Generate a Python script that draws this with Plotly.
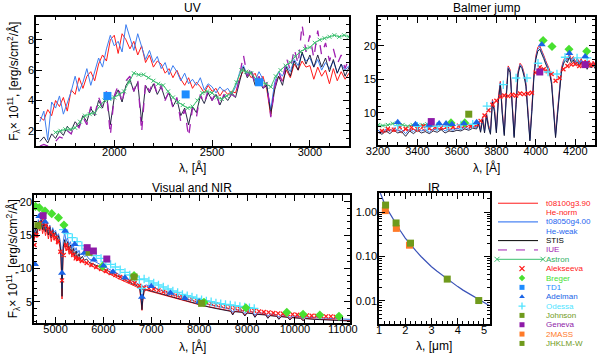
import plotly.graph_objects as go

# colours
RED = "#ff1a1a"
BLUE = "#3d7ef0"
BLACK = "#101030"
PURPLE = "#a020b0"
ASTRON = "#3cc070"
LIME = "#48e030"
TD1C = "#1e8cff"
ADEL = "#1a64e6"
CYAN = "#50e4ff"
OLIVE = "#6f9a1c"
GENEVA = "#8e1aa8"
ORANGE = "#ff7a28"

# ---------------- UV panel ----------------
uv_wave = list(range(1620, 3201, 20))
uv_red = [2.9, 2.7, 3.4, 3.0, 4.0, 3.6, 4.2, 3.3, 4.7, 4.4,
          5.5, 4.8, 5.6, 5.9, 5.3, 6.4, 7.0, 6.6, 8.0, 8.3,
          7.1, 8.4, 8.0, 7.4, 7.9, 7.0, 7.6, 6.5, 7.0, 6.2,
          6.6, 6.4, 5.8, 6.1, 5.5, 6.0, 5.4, 5.0, 5.5, 4.8,
          5.2, 4.9, 4.5, 5.0, 4.6, 4.8, 4.3, 4.7, 4.4, 4.6,
          4.5, 5.4, 6.0, 5.9, 5.5, 5.8, 5.1, 5.6, 4.7, 3.0,
          5.0, 5.6, 5.3, 6.0, 5.5, 6.4, 6.0, 6.6, 6.2, 6.3,
          5.4, 6.2, 5.6, 6.0, 5.1, 6.1, 5.3, 5.9, 5.4, 5.8]
uv_blue = [2.6, 3.3, 1.4, 3.9, 3.5, 4.3, 3.1, 3.8, 4.6, 5.6,
           4.6, 5.2, 6.1, 5.0, 5.9, 6.8, 6.2, 7.4, 8.3, 7.6,
           7.9, 7.2, 9.0, 8.1, 7.3, 8.4, 7.6, 6.7, 7.3, 6.5,
           6.9, 6.1, 6.5, 5.7, 6.3, 5.9, 5.3, 5.8, 5.1, 5.4,
           5.0, 5.5, 4.7, 5.1, 4.9, 4.5, 4.9, 4.6, 4.8, 4.4,
           4.9, 5.8, 6.3, 5.7, 5.9, 5.3, 5.9, 5.4, 4.9, 3.4,
           5.2, 5.9, 5.6, 6.3, 5.9, 6.7, 6.3, 7.1, 6.6, 6.8,
           6.2, 6.7, 6.0, 6.5, 6.1, 6.6, 5.8, 6.4, 6.0, 6.3]
uv_stis = [1.3, 1.6, 1.2, 1.8, 1.5, 2.0, 1.7, 2.3, 2.0, 2.6,
           2.3, 3.0, 2.6, 3.5, 3.0, 4.0, 3.5, 4.4, 2.4, 4.2,
           4.7, 3.9, 5.0, 5.4, 4.6, 5.2, 2.6, 5.0, 4.5, 5.1,
           4.4, 4.9, 4.1, 4.5, 3.6, 4.1, 3.0, 3.5, 2.4, 3.6,
           3.2, 4.3, 3.8, 4.5, 4.0, 4.4, 3.7, 4.3, 4.0, 4.4,
           4.2, 5.3, 6.2, 5.5, 5.9, 5.0, 5.4, 4.8, 5.0, 3.1,
           4.7, 5.6, 5.0, 6.2, 5.6, 6.6, 6.0, 7.2, 6.4, 7.0,
           6.2, 7.0, 6.2, 6.8, 5.9, 6.7, 5.8, 6.4, 5.6, 6.2]
uv_iue = [1.0, 1.1, 1.0, 1.2, 1.3, 1.6, 1.5, 2.0, 1.8, 2.5,
          2.2, 2.9, 2.4, 3.6, 3.0, 4.2, 3.6, 4.6, 1.7, 4.3,
          5.0, 3.8, 5.3, 5.6, 4.6, 5.4, 1.9, 5.2, 4.6, 5.3,
          4.4, 5.0, 4.0, 4.6, 3.5, 4.2, 2.6, 3.4, 1.6, 3.5,
          2.9, 4.4, 3.8, 4.7, 4.0, 4.6, 3.6, 4.4, 4.0, 4.5,
          4.2, 5.5, 7.0, 5.6, 6.2, 5.0, 5.6, 4.8, 5.2, 2.9,
          4.8, 5.9, 5.2, 6.8, 6.0, 7.4, 6.4, 9.0, 7.2, 8.3,
          6.8, 8.6, 7.0, 7.8, 6.6, 7.4, 6.4, 7.0, 6.1, 6.8]

astron_wave = list(range(1700, 3500, 25))
astron_flux = [1.9, 2.0, 2.1, 2.1, 2.2, 2.6, 3.0, 3.1, 3.2, 3.6,
               4.0, 4.1, 4.2, 4.4, 4.6, 5.2, 5.8, 5.7, 5.7, 5.5,
               5.3, 5.1, 5.0, 4.6, 4.2, 3.9, 3.7, 3.5, 3.6, 4.0,
               4.5, 4.6, 4.5, 4.2, 4.1, 4.3, 4.5, 5.2, 6.0, 5.9,
               5.8, 5.4, 5.2, 5.1, 4.9, 5.6, 6.0, 6.3, 6.5, 6.9,
               7.2, 7.4, 7.5, 7.8, 8.0, 8.1, 8.2, 8.3, 8.2, 8.3,
               8.2, 8.1, 8.2, 8.4, 8.4, 8.2, 8.0, 8.2, 8.1, 8.2, 8.3, 8.2]

td1_wave = [1965, 2365, 2740]
td1_flux = [4.3, 4.4, 5.2]

# ---------------- Balmer jump panel ----------------
bal_wave = list(range(3200, 3700, 20)) + list(range(3700, 4310, 10))
bal_blue = [7.4, 7.0, 7.6, 7.2, 7.8, 7.3, 7.5, 6.9, 7.6, 7.2, 7.7, 7.3, 7.5,
            7.1, 7.6, 7.4, 7.8, 7.3, 7.6, 7.4, 7.7, 7.5, 7.9, 7.6, 8.0,
            7.8, 8.6, 7.3, 9.2, 7.2, 9.8, 8.0, 7.0, 11.8, 10.5,
            7.2, 12.0, 14.5, 10.0, 6.8, 12.5, 16.8, 16.2, 11.0, 6.5,
            11.5, 16.0, 17.2, 16.8, 15.8, 14.2, 10.0, 6.0, 10.5, 15.5,
            18.2, 19.5, 19.8, 19.2, 18.4, 17.6, 17.0, 16.2, 14.5, 11.0,
            6.5, 10.0, 14.0, 16.5, 17.6, 18.2, 17.8, 18.6, 17.8, 18.2,
            17.4, 18.0, 17.3, 17.9, 17.1, 17.7, 16.8, 17.6, 17.0, 17.5, 16.9]
bal_stis = [7.1, 6.8, 7.3, 6.9, 7.4, 7.0, 7.2, 6.5, 7.3, 6.9, 7.4, 7.0, 7.2,
            6.9, 7.3, 7.1, 7.5, 7.0, 7.3, 7.2, 7.4, 7.3, 7.6, 7.4, 7.7,
            7.6, 8.3, 7.1, 9.0, 7.0, 9.6, 7.8, 6.8, 11.6, 10.2,
            7.0, 11.7, 14.3, 9.8, 6.6, 12.2, 16.6, 16.0, 10.8, 6.3,
            11.2, 15.8, 17.0, 16.6, 15.5, 13.9, 9.7, 5.8, 10.2, 15.2,
            18.0, 19.2, 19.5, 18.9, 18.1, 17.3, 16.7, 15.9, 14.2, 10.7,
            6.3, 9.7, 13.7, 16.2, 17.3, 17.9, 17.5, 18.3, 17.5, 17.9,
            17.1, 17.7, 17.0, 17.6, 16.8, 17.4, 16.5, 17.3, 16.7, 17.2, 16.6]
bal_red = [7.0, 7.4, 7.1, 7.6, 7.2, 7.5, 7.0, 7.7, 7.3, 7.6, 7.2, 7.7, 7.3,
           7.6, 7.4, 7.8, 7.5, 7.7, 7.4, 7.8, 7.6, 7.9, 7.7, 8.1, 7.8,
           8.0, 8.7, 7.5, 9.4, 7.4, 10.0, 8.2, 7.3, 12.0, 10.8,
           7.5, 12.3, 14.7, 10.3, 7.1, 12.8, 17.0, 16.4, 11.3, 6.8,
           11.8, 16.2, 17.4, 17.0, 16.0, 14.4, 10.3, 6.3, 10.8, 15.8,
           18.5, 19.8, 20.0, 19.4, 18.6, 17.8, 17.2, 16.4, 14.7, 11.2,
           6.8, 10.3, 14.2, 16.7, 17.8, 18.4, 18.0, 18.8, 18.0, 18.4,
           17.6, 18.2, 17.5, 18.1, 17.3, 17.9, 17.0, 17.8, 17.2, 17.7, 17.1]

alek_bal_wave = [3220, 3250, 3280, 3310, 3340, 3370, 3400, 3430, 3460, 3490,
                 3520, 3550, 3580, 3610, 3640, 3670, 3700, 3720, 3740, 3760,
                 3780, 3800, 3820, 3840, 3860, 3880, 3900, 3920, 3940, 3960,
                 3980, 4000, 4020, 4040, 4060, 4080, 4100, 4120, 4140, 4160,
                 4180, 4200, 4220, 4240, 4260, 4280, 4300]
alek_bal_flux = [7.3, 7.6, 7.5, 7.9, 7.6, 7.8, 7.6, 8.0, 7.7, 7.9,
                 7.8, 8.0, 7.9, 8.1, 8.2, 8.0, 8.3, 8.8, 9.6, 10.4,
                 11.2, 11.8, 12.4, 12.6, 12.5, 12.7, 12.6, 12.9, 12.8, 12.9,
                 13.0, 16.0, 16.8, 16.5, 16.2, 15.8, 14.8, 15.2, 16.5, 17.0,
                 17.2, 17.3, 17.0, 17.2, 17.4, 17.1, 17.3]

ode_bal_wave = [3300, 3400, 3450, 3500, 3550, 3620, 3680, 3752, 3835, 3900,
                3955, 4011, 4062, 4107, 4148, 4209, 4260]
ode_bal_flux = [8.1, 8.0, 7.9, 8.0, 8.0, 8.2, 8.3, 11.0, 14.2, 15.2,
                15.2, 17.4, 16.1, 15.8, 18.3, 18.2, 18.2]

adel_bal_wave = [3300, 3390, 3460, 3510, 3545, 3575, 3636, 3700, 4030, 4170, 4250]
adel_bal_flux = [8.6, 8.3, 8.2, 8.4, 8.4, 8.3, 8.4, 8.6, 20.2, 18.9, 18.4]

breger_bal_wave = [3570, 3640, 4037, 4082, 4168, 4258]
breger_bal_flux = [8.5, 8.5, 20.8, 19.9, 19.5, 19.2]

geneva_bal_wave = [3470, 4020, 4250]
geneva_bal_flux = [8.7, 16.1, 17.2]

johnson_bal_wave = [3660]
johnson_bal_flux = [9.8]

# ---------------- Visual and NIR panel ----------------
vis_wave = [4550, 4580, 4610, 4640, 4670, 4700, 4730, 4760, 4790, 4820,
            4850, 4880, 4910, 4940, 4970, 5000, 5030, 5060, 5090, 5110,
            5125, 5135, 5145, 5160, 5190, 5220, 5250, 5280, 5310, 5340,
            5370, 5400, 5430, 5460, 5490, 5520, 5560, 5600, 5650, 5700,
            5800, 5900, 6000, 6100, 6200, 6300, 6400, 6500, 6600, 6700,
            6760, 6790, 6805, 6820, 6850, 6900, 7000, 7200, 7400, 7600,
            7800, 8000, 8200, 8400, 8600, 8660, 8700, 8740, 8900, 8955,
            9000, 9120, 9165, 9210, 9390, 9435, 9480, 9620, 9665, 9710,
            9850, 9895, 9940, 10120, 10170, 10220, 10400, 10600, 10800, 11000,
            11150]
vis_stis = [14.5, 16.0, 15.2, 17.0, 16.2, 17.2, 15.8, 16.8, 15.5, 16.5,
            15.0, 16.2, 14.6, 15.8, 14.8, 15.4, 14.2, 14.9, 13.8, 12.5,
            9.5, 5.8, 9.5, 13.2, 14.3, 13.2, 14.0, 12.8, 13.5, 12.3,
            13.0, 11.9, 12.6, 11.6, 12.2, 11.4, 11.8, 11.2, 11.4, 10.9,
            10.6, 10.3, 10.0, 9.6, 9.2, 8.8, 8.4, 8.0, 7.7, 7.4,
            7.0, 5.2, 3.8, 5.2, 6.8, 6.8, 6.6, 6.2, 5.8, 5.3,
            4.9, 4.5, 4.2, 3.9, 3.65, 3.55, 3.0, 3.5, 3.4, 2.85,
            3.3, 3.2, 2.65, 3.1, 3.0, 2.5, 2.9, 2.8, 2.35, 2.75,
            2.65, 2.25, 2.6, 2.5, 2.15, 2.45, 2.35, 2.25, 2.2, 2.15,
            2.1]
vis_blue = [15.0, 16.4, 15.8, 17.3, 16.6, 17.6, 16.3, 17.1, 16.0, 16.8,
            15.6, 16.5, 15.2, 16.1, 15.4, 15.7, 14.8, 15.2, 14.4, 13.3,
            10.5, 7.0, 10.5, 14.0, 15.4, 14.0, 14.6, 13.5, 14.0, 13.0,
            13.5, 12.6, 13.1, 12.3, 12.7, 12.0, 12.3, 11.8, 11.9, 11.4,
            11.1, 10.7, 10.4, 10.0, 9.6, 9.2, 8.8, 8.4, 8.1, 7.8,
            7.4, 5.8, 4.6, 5.8, 7.4, 7.5, 7.2, 6.7, 6.2, 5.7,
            5.3, 4.9, 4.55, 4.25, 3.95, 3.85, 3.4, 3.8, 3.7, 3.2,
            3.6, 3.45, 2.95, 3.35, 3.25, 2.8, 3.15, 3.05, 2.65, 3.0,
            2.9, 2.55, 2.85, 2.75, 2.4, 2.7, 2.6, 2.5, 2.45, 2.4,
            2.35]
vis_red = [14.0, 15.4, 14.6, 16.4, 15.6, 16.6, 15.2, 16.2, 14.9, 15.9,
           14.4, 15.6, 14.0, 15.2, 14.2, 14.8, 13.6, 14.3, 13.2, 11.9,
           8.8, 5.4, 8.8, 12.6, 13.7, 12.6, 13.4, 12.2, 12.9, 11.8,
           12.4, 11.4, 12.0, 11.1, 11.7, 10.9, 11.3, 10.8, 10.9, 10.5,
           10.2, 9.9, 9.6, 9.3, 8.9, 8.5, 8.2, 7.8, 7.5, 7.2,
           6.8, 5.0, 3.7, 5.0, 6.6, 6.7, 6.5, 6.1, 5.7, 5.3,
           4.9, 4.55, 4.25, 3.95, 3.7, 3.6, 3.1, 3.55, 3.45, 2.95,
           3.35, 3.25, 2.75, 3.15, 3.05, 2.6, 2.95, 2.85, 2.45, 2.8,
           2.7, 2.35, 2.65, 2.55, 2.2, 2.5, 2.4, 2.3, 2.25, 2.2,
           2.15]

alek_vis_wave = [4560, 4600, 4650, 4700, 4750, 4800, 4850, 4900, 4950, 5000,
                 5050, 5100, 5135, 5170, 5220, 5270, 5320, 5370, 5420, 5470,
                 5550, 5650, 5750, 5850, 5950, 6050, 6150, 6250, 6350, 6450,
                 6550, 6650, 6750, 6850, 6950, 7050, 7150, 7250, 7350, 7450,
                 7550, 7650, 7750, 7850, 7950, 8050, 8150, 8250, 8350, 8450,
                 8550, 8650, 8750, 8850, 8950, 9050, 9150, 9250, 9350, 9450,
                 9550, 9650, 9750, 9850, 9950, 10050, 10150, 10250, 10350, 10450,
                 10550, 10650, 10750, 10850]
alek_vis_flux = [13.5, 15.0, 16.2, 16.8, 17.2, 16.5, 16.0, 15.4, 15.0, 14.6,
                 14.0, 12.5, 8.2, 12.0, 13.5, 13.0, 12.4, 12.0, 11.5, 11.4,
                 11.1, 10.8, 10.5, 10.2, 9.9, 9.6, 9.3, 9.0, 8.7, 8.4,
                 8.1, 7.8, 7.4, 7.1, 7.0, 6.9, 6.7, 6.5, 6.3, 6.1,
                 5.9, 5.7, 5.5, 5.35, 5.2, 5.05, 4.9, 4.75, 4.6, 4.45,
                 4.3, 4.2, 4.05, 3.95, 3.85, 3.75, 3.65, 3.55, 3.45, 3.4,
                 3.3, 3.25, 3.2, 3.15, 3.1, 3.05, 3.0, 2.95, 2.9, 2.9,
                 2.85, 2.8, 2.8, 2.75]

ode_vis_wave = [5160, 5250, 5350, 5450, 5550, 5650, 5750, 5850, 5950, 6050,
                6150, 6250, 6350, 6450, 6550, 6650, 6750, 6800, 6850, 6950,
                7050, 7150, 7250, 7350, 7450, 7550, 7650, 7750, 7850, 7950,
                8050, 8150, 8250, 8350, 8450, 8550, 8650, 8750, 8850, 8950,
                9050, 9150]
ode_vis_flux = [15.8, 15.2, 14.6, 14.0, 13.4, 12.9, 12.4, 11.9, 11.5, 11.0,
                10.6, 10.2, 9.8, 9.4, 9.0, 8.7, 8.3, 7.0, 8.4, 8.1,
                7.8, 7.5, 7.2, 6.9, 6.6, 6.4, 6.1, 5.9, 5.7, 5.5,
                5.3, 5.1, 5.0, 4.8, 4.7, 4.6, 4.5, 4.4, 4.3, 4.2,
                4.1, 4.0]

adel_vis_wave = [4570, 4660, 4780, 5135, 5200, 5400, 5600, 5800, 6000, 6200,
                 6450, 6805, 7000, 7400, 7700, 8000]
adel_vis_flux = [10.6, 17.8, 17.0, 9.3, 15.6, 13.6, 12.3, 11.3, 10.4, 9.5,
                 8.6, 5.7, 7.3, 6.3, 5.5, 5.0]

breger_vis_wave = [4580, 4660, 4780, 4920, 5060, 5175, 5980, 6640, 8100, 8975,
                   9830, 10170, 10520, 10920]
breger_vis_flux = [19.3, 19.1, 18.6, 18.2, 17.6, 16.5, 10.3, 8.9, 4.9, 4.1,
                   3.4, 3.1, 3.0, 2.8]

geneva_vis_wave = [4740, 5660, 5790, 6070]
geneva_vis_flux = [17.9, 13.1, 12.6, 11.4]

johnson_vis_wave = [4630, 5700, 6640, 8050]
johnson_vis_flux = [16.4, 12.4, 8.7, 4.75]

# ---------------- IR panel ----------------
ir_wave = [1.0, 1.1, 1.2, 1.3, 1.4, 1.5, 1.6, 1.7, 1.8, 2.0, 2.2, 2.4, 2.6,
           2.8, 3.0, 3.2, 3.4, 3.6, 3.8, 4.0, 4.2, 4.4, 4.6, 4.8, 5.0, 5.2]
ir_model = [3.2, 2.2, 1.6, 1.2, 0.95, 0.75, 0.6, 0.48, 0.39, 0.26, 0.185, 0.135,
            0.1, 0.076, 0.059, 0.047, 0.038, 0.031, 0.025, 0.021, 0.0175,
            0.0148, 0.0125, 0.0106, 0.0091, 0.0079]

mass_wave = [1.24, 1.66, 2.16]
mass_flux = [1.08, 0.43, 0.18]
jhklm_wave = [1.25, 1.65, 2.2, 3.6, 4.8]
jhklm_flux = [1.44, 0.57, 0.2, 0.031, 0.0102]

for a, b in [(uv_wave, uv_red), (uv_wave, uv_blue), (uv_wave, uv_stis), (uv_wave, uv_iue),
             (astron_wave, astron_flux), (bal_wave, bal_blue), (bal_wave, bal_stis),
             (bal_wave, bal_red), (vis_wave, vis_stis), (vis_wave, vis_blue),
             (vis_wave, vis_red), (alek_vis_wave, alek_vis_flux),
             (alek_bal_wave, alek_bal_flux), (ode_vis_wave, ode_vis_flux),
             (ir_wave, ir_model)]:
    assert len(a) == len(b), (len(a), len(b))

AX = {"uv": ("x", "y"), "bal": ("x2", "y2"), "vis": ("x3", "y3"), "ir": ("x4", "y4")}

# drawing order: models, STIS, IUE, Astron, then photometry
series = [
    dict(mode="lines", line=dict(color=RED, width=1),
         parts=[("uv", uv_wave, uv_red), ("bal", bal_wave, bal_red),
                ("vis", vis_wave, vis_red)]),
    dict(mode="lines", line=dict(color=BLUE, width=1),
         parts=[("uv", uv_wave, uv_blue), ("bal", bal_wave, bal_blue),
                ("vis", vis_wave, vis_blue)]),
    dict(mode="lines", line=dict(color="#3a52b8", width=1.2),
         parts=[("ir", ir_wave, ir_model)]),
    dict(mode="lines", line=dict(color=BLACK, width=0.9),
         parts=[("uv", uv_wave, uv_stis), ("bal", bal_wave, bal_stis),
                ("vis", vis_wave, vis_stis)]),
    dict(mode="lines", line=dict(color=PURPLE, width=1.3, dash="dash"),
         parts=[("uv", uv_wave, uv_iue)]),
    dict(mode="lines+markers", line=dict(color=ASTRON, width=1),
         marker=dict(symbol="x-thin", size=4, line=dict(color=ASTRON, width=1)),
         parts=[("uv", astron_wave, astron_flux), ("bal", astron_wave, astron_flux)]),
    dict(mode="markers", marker=dict(symbol="x-thin", size=4, line=dict(color=RED, width=1.3)),
         parts=[("bal", alek_bal_wave, alek_bal_flux), ("vis", alek_vis_wave, alek_vis_flux)]),
    dict(mode="markers", marker=dict(symbol="cross-thin", size=6, line=dict(color=CYAN, width=1.3)),
         parts=[("bal", ode_bal_wave, ode_bal_flux), ("vis", ode_vis_wave, ode_vis_flux)]),
    dict(mode="markers", marker=dict(symbol="diamond", size=7, color=LIME),
         parts=[("bal", breger_bal_wave, breger_bal_flux), ("vis", breger_vis_wave, breger_vis_flux)]),
    dict(mode="markers", marker=dict(symbol="square", size=8, color=TD1C),
         parts=[("uv", td1_wave, td1_flux)]),
    dict(mode="markers", marker=dict(symbol="triangle-up", size=7, color=ADEL),
         parts=[("bal", adel_bal_wave, adel_bal_flux), ("vis", adel_vis_wave, adel_vis_flux)]),
    dict(mode="markers", marker=dict(symbol="square", size=7, color=OLIVE),
         parts=[("bal", johnson_bal_wave, johnson_bal_flux), ("vis", johnson_vis_wave, johnson_vis_flux)]),
    dict(mode="markers", marker=dict(symbol="square", size=7, color=GENEVA),
         parts=[("bal", geneva_bal_wave, geneva_bal_flux), ("vis", geneva_vis_wave, geneva_vis_flux)]),
    dict(mode="markers", marker=dict(symbol="square", size=7, color=ORANGE),
         parts=[("ir", mass_wave, mass_flux)]),
    dict(mode="markers", marker=dict(symbol="square", size=7, color=OLIVE),
         parts=[("ir", jhklm_wave, jhklm_flux)]),
]

fig = go.Figure()
for s in series:
    for panel, xs, ys in s["parts"]:
        xa, ya = AX[panel]
        fig.add_trace(go.Scatter(x=xs, y=ys, mode=s["mode"], line=s.get("line"),
                                 marker=s.get("marker"), xaxis=xa, yaxis=ya,
                                 showlegend=False, hoverinfo="skip"))

# hand-made legend (rows placed on a hidden pixel-scaled axis)
legend_rows = [
    ("t08100g3.90", RED, "line"), ("He-norm", RED, None),
    ("t08050g4.00", "#1e66f0", "line"), ("He-weak", "#1e66f0", None),
    ("STIS", "black", "line"), ("IUE", PURPLE, "dash"), ("Astron", "#30b060", "astron"),
    ("Alekseeva", RED, "x-thin"), ("Breger", LIME, "diamond"), ("TD1", TD1C, "square"),
    ("Adelman", ADEL, "triangle-up"), ("Odessa", CYAN, "cross-thin"),
    ("Johnson", OLIVE, "square"), ("Geneva", GENEVA, "square"),
    ("2MASS", ORANGE, "square"), ("JHKLM-W", OLIVE, "square"),
]
ROW0, ROWSTEP = 203.5, 9.33
for i, (label, col, glyph) in enumerate(legend_rows):
    yy = ROW0 + i * ROWSTEP
    if glyph in ("line", "dash"):
        fig.add_trace(go.Scatter(x=[498, 538], y=[yy, yy], mode="lines", xaxis="x5", yaxis="y5",
                                 line=dict(color=col, width=1,
                                           dash="dash" if glyph == "dash" else "solid"),
                                 showlegend=False, hoverinfo="skip"))
    elif glyph == "astron":
        fig.add_trace(go.Scatter(x=[497, 543], y=[yy, yy], mode="lines+markers", xaxis="x5", yaxis="y5",
                                 line=dict(color=ASTRON, width=1),
                                 marker=dict(symbol="x-thin", size=5, line=dict(color=ASTRON, width=1)),
                                 showlegend=False, hoverinfo="skip"))
    elif glyph is not None:
        mk = dict(symbol=glyph, size=5, color=col)
        if glyph.endswith("thin"):
            mk["line"] = dict(color=col, width=1.3)
        fig.add_trace(go.Scatter(x=[522], y=[yy], mode="markers", xaxis="x5", yaxis="y5",
                                 marker=mk, showlegend=False, hoverinfo="skip"))
    fig.add_annotation(x=545, y=yy, xref="x5", yref="y5", text=label, showarrow=False,
                       xanchor="left", yanchor="middle", borderpad=0,
                       font=dict(size=8, color=col))

FONT = "Liberation Sans, Arial, sans-serif"


def axis(rng, dtick, minor, dom, anchor, xdir=True, **kw):
    d = dict(range=rng, dtick=dtick, domain=dom, anchor=anchor, showline=True,
             linecolor="black", linewidth=1.5, mirror="allticks", ticks="inside",
             ticklen=6, tickwidth=1.2, tickcolor="black", showgrid=False, zeroline=False,
             automargin=False, tickfont=dict(size=11, color="black"),
             ticklabelstandoff=-5 if xdir else -2,
             minor=dict(ticks="inside", ticklen=3, tickwidth=1, tickcolor="black", dtick=minor))
    d.update(kw)
    return d


XT = "λ, [Å]"
YT = "F<sub>λ</sub>× 10<sup>11</sup>, [erg/s/cm<sup>2</sup>/Å]"

fig.update_layout(
    width=600, height=355, margin=dict(l=0, r=0, t=0, b=0, autoexpand=False),
    paper_bgcolor="white", plot_bgcolor="rgba(0,0,0,0)", showlegend=False,
    font=dict(family=FONT, color="black"),
    xaxis=axis([1600, 3200], 500, 100, [0.06, 0.5817], "y"),
    yaxis=axis([1, 9.5], 2, 0.5, [0.5887, 0.952], "x", False),
    xaxis2=axis([3200, 4300], 200, 50, [0.63, 0.9917], "y2"),
    yaxis2=axis([5.2, 24.3], 5, 1, [0.5915, 0.952], "x2", False),
    xaxis3=axis([4550, 11150], 1000, 200, [0.0567, 0.5833], "y3", tickformat="d"),
    yaxis3=axis([1.8, 21], 5, 1, [0.0901, 0.4507], "x3", False),
    xaxis4=axis([1, 5.23], 1, 0.2, [0.6317, 0.8167], "y4"),
    yaxis4=axis([-2.52, 0.43], None, "D1", [0.0873, 0.4563], "x4", False, type="log",
                tickvals=[0.01, 0.1, 1], ticktext=["0.01", "0.10", "1.00"]),
    xaxis5=dict(domain=[0.82, 1.0], range=[492, 600], visible=False, anchor="y5"),
    yaxis5=dict(domain=[0, 0.46], range=[355, 192], visible=False, anchor="x5"),
)

# panel titles and axis titles
for txt, xc, yc, ang in [("UV", 0.321, 0.977, 0), ("Balmer jump", 0.811, 0.977, 0),
                         ("Visual and NIR", 0.32, 0.47, 0), ("IR", 0.724, 0.47, 0),
                         (XT, 0.321, 0.527, 0), (XT, 0.811, 0.527, 0),
                         (XT, 0.32, 0.024, 0), ("λ, [μm]", 0.724, 0.024, 0),
                         (YT, 0.022, 0.77, -90), (YT, 0.022, 0.27, -90)]:
    fig.add_annotation(x=xc, y=yc, xref="paper", yref="paper", text=txt, showarrow=False,
                       xanchor="center", yanchor="middle", textangle=ang,
                       font=dict(size=12, color="black"))

# the page's default body margin would shift the figure by 8 px
fig.write_html("out.html", config={"displayModeBar": False},
               post_script="document.body.style.margin='0px';")
